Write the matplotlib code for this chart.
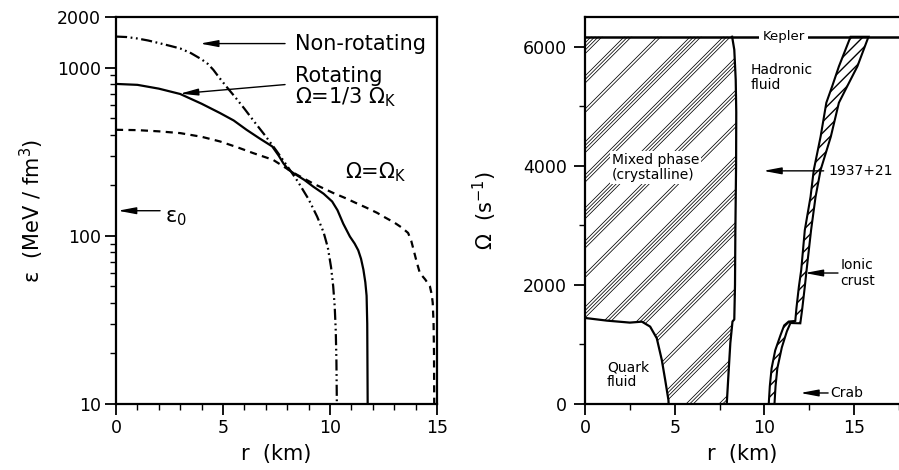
import matplotlib
matplotlib.use("Agg")
import matplotlib.pyplot as plt
import numpy as np
from matplotlib.patches import Polygon
from matplotlib.collections import LineCollection
from matplotlib.ticker import MultipleLocator, FixedLocator, NullFormatter

plt.rcParams['font.family'] = ['DejaVu Sans']
plt.rcParams['mathtext.default'] = 'regular'

# ---- left panel: energy density profiles eps(r) ----
r_nonrot = [0, 0.5, 1, 1.5, 2, 2.5, 3, 3.5, 4, 4.3, 4.55, 4.8, 5.2, 5.6, 6, 6.5, 7, 7.5,
            8, 8.5, 9, 9.4, 9.7, 9.9, 10.05, 10.15, 10.22, 10.27, 10.3, 10.32]
eps_nonrot = [1530, 1520, 1490, 1450, 1400, 1350, 1300, 1220, 1120, 1050, 970, 880, 760, 660,
              570, 470, 390, 320, 260, 210, 165, 130, 105, 85, 65, 50, 38, 27, 18, 10]

r_rot13 = [0, 1, 2, 3, 4, 4.86, 5.5, 6.1, 6.7, 7.3, 7.6, 7.82, 8.05, 8.29, 8.8, 9.22, 9.7,
           10.1, 10.35, 10.62, 10.93, 11.15, 11.32, 11.45, 11.56, 11.65, 11.71, 11.74, 11.76]
eps_rot13 = [800, 790, 750, 697, 610, 537, 485, 427, 380, 340, 300, 270, 248, 236, 215, 196, 178,
             160, 142, 118, 99, 90, 82, 73, 63, 53, 44, 30, 10]

r_kep = [0, 1, 2, 3, 4, 4.86, 5.7, 6.42, 7.34, 8.29, 9.2, 10.14, 10.7, 11.2, 11.7, 12.2, 12.6,
         13.0, 13.35, 13.65, 13.8, 13.88, 14.05, 14.2, 14.45, 14.67, 14.75, 14.8, 14.84, 14.86, 14.87]
eps_kep = [427, 425, 418, 408, 388, 364, 335, 310, 283, 237, 205, 180, 168, 157, 147, 137, 128,
           120, 112, 104, 93, 85, 70, 60, 55, 50, 45, 40, 30, 20, 10]

eps0 = 141  # nuclear matter density marker

# ---- right panel: phase boundaries Omega(r) ----
omega_kepler = 6168

hadron_r = [8.2, 8.32, 8.4, 8.43, 8.42, 8.38, 8.36, 8.32, 8.22, 8.1, 8.0, 7.9]
hadron_omega = [6168, 5950, 5445, 4900, 4000, 2900, 2000, 1420, 1385, 1025, 520, 0]

quark_r = [4.66, 4.65, 4.47, 4.28, 4.0, 3.63, 3.17, 2.5, 1.23, 0]
quark_omega = [0, 67, 403, 740, 1104, 1300, 1383, 1367, 1400, 1445]

crust_in_r = [10.24, 10.30, 10.40, 10.60, 10.90, 11.10, 11.35, 11.72, 11.78, 11.92, 12.05,
              12.25, 12.57, 12.75, 13.13, 13.45, 13.78, 14.15, 14.80]
crust_in_omega = [0, 300, 600, 900, 1160, 1320, 1385, 1395, 1600, 1970, 2250,
                  2920, 3480, 3930, 4490, 5060, 5340, 5670, 6168]
crust_out_r = [10.56, 10.62, 10.72, 10.97, 11.25, 11.45, 12.0, 12.1, 12.25, 12.35,
               12.6, 12.85, 13.13, 13.70, 14.15, 14.62, 15.18, 15.80]
crust_out_omega = [0, 300, 600, 950, 1220, 1360, 1355, 1580, 1970, 2250,
                   2920, 3480, 3930, 4490, 5060, 5340, 5670, 6168]

W_PX, H_PX = 899, 470
fig = plt.figure(figsize=(W_PX / 100, H_PX / 100), dpi=100)
pos1 = [116 / W_PX, 1 - 404 / H_PX, (437 - 116) / W_PX, 387 / H_PX]
pos2 = [585 / W_PX, 1 - 404 / H_PX, (899 - 585) / W_PX, 387 / H_PX]
ax1 = fig.add_axes(pos1)
ax2 = fig.add_axes(pos2)

arrow = dict(arrowstyle='-|>,head_length=0.9,head_width=0.17', color='k', lw=1.0,
             shrinkA=0, shrinkB=0, mutation_scale=12)

# ---------------- left ----------------
ax1.plot(r_nonrot, eps_nonrot, color='k', lw=1.6, dashes=(5, 1.6, 0.8, 1.6, 0.8, 1.6))
ax1.plot(r_rot13, eps_rot13, color='k', lw=1.6)
ax1.plot(r_kep, eps_kep, color='k', lw=1.6, dashes=(3.2, 2.4))
ax1.set_yscale('log')
ax1.set_xlim(0, 15)
ax1.set_ylim(10, 2000)
ax1.yaxis.set_major_locator(FixedLocator([10, 100, 1000, 2000]))
ax1.set_yticklabels(['10', '100', '1000', '2000'])
ax1.yaxis.set_minor_locator(FixedLocator([20, 30, 40, 50, 60, 70, 80, 90,
                                          200, 300, 400, 500, 600, 700, 800, 900]))
ax1.yaxis.set_minor_formatter(NullFormatter())
ax1.xaxis.set_major_locator(MultipleLocator(5))
ax1.xaxis.set_minor_locator(MultipleLocator(1))

ax1.annotate('', xy=(3.93, 1390), xytext=(7.9, 1390), arrowprops=arrow)
ax1.text(8.36, 1390, 'Non-rotating', fontsize=15, va='center', ha='left')
ax1.annotate('', xy=(2.99, 700), xytext=(7.9, 793), arrowprops=arrow)
ax1.text(8.36, 760, 'Rotating\n\u03a9=1/3 \u03a9$_K$', fontsize=15, va='center', ha='left',
         linespacing=0.95)
ax1.text(10.7, 240, '\u03a9=\u03a9$_K$', fontsize=15, va='center', ha='left')
ax1.annotate('', xy=(0.09, eps0), xytext=(2.06, eps0), arrowprops=arrow)
ax1.text(2.29, 128, '\u03b5$_0$', fontsize=15, va='center', ha='left')

ax1.set_xlabel('r  (km)', fontsize=15, labelpad=5)
ax1.set_ylabel('\u03b5  (MeV / fm$^3$)', fontsize=15, labelpad=8)

# ---------------- right ----------------
ax2.set_xlim(0, 17.5)
ax2.set_ylim(0, 6500)

mixed_vertices = ([(0, omega_kepler)] + list(zip(hadron_r, hadron_omega))
                  + list(zip(quark_r, quark_omega)))
mixed = Polygon(mixed_vertices, closed=True, facecolor='none', edgecolor='none',
                transform=ax2.transData)
ax2.add_patch(mixed)

# grouped diagonal hatching (45 deg on screen) clipped to the mixed phase
ax_w = pos2[2] * W_PX
ax_h = pos2[3] * H_PX
segs = []
group_sizes = [4, 3, 4, 3, 2]
for i, base in enumerate(np.arange(-ax_h - 40, ax_w + 40, 33.0)):
    for k in range(group_sizes[i % len(group_sizes)]):
        c = base + k * 3.6
        segs.append([(c / ax_w, 0), ((c + ax_h) / ax_w, 1)])
hatch = LineCollection(segs, colors='k', linewidths=0.55, transform=ax2.transAxes)
hatch.set_clip_path(mixed)
ax2.add_collection(hatch)

ax2.plot(hadron_r, hadron_omega, color='k', lw=1.6)
ax2.plot(quark_r, quark_omega, color='k', lw=1.6)

crust = Polygon(list(zip(crust_in_r, crust_in_omega)) + list(zip(crust_out_r, crust_out_omega))[::-1],
                closed=True, facecolor='white', edgecolor='k', lw=1.5, hatch='///')
ax2.add_patch(crust)

ax2.axhline(omega_kepler, color='k', lw=1.8)
ax2.text(11.06, omega_kepler, 'Kepler', fontsize=9.5, ha='center', va='center',
         bbox=dict(facecolor='white', edgecolor='none', pad=2.5))
ax2.text(9.22, 5480, 'Hadronic\nfluid', fontsize=10, ha='left', va='center', linespacing=1.1)
ax2.text(1.5, 3975, 'Mixed phase\n(crystalline)', fontsize=10, ha='left', va='center',
         linespacing=1.1, bbox=dict(facecolor='white', edgecolor='none', pad=1.5))
ax2.text(1.23, 490, 'Quark\nfluid', fontsize=10, ha='left', va='center', linespacing=1.1)

ax2.annotate('', xy=(9.94, 3916), xytext=(13.3, 3916), arrowprops=arrow)
ax2.text(13.55, 3916, '1937+21', fontsize=10, ha='left', va='center')
ax2.annotate('', xy=(12.25, 2200), xytext=(14.1, 2200), arrowprops=arrow)
ax2.text(14.25, 2200, 'Ionic\ncrust', fontsize=10, ha='left', va='center', linespacing=1.1)
ax2.annotate('', xy=(12.0, 185), xytext=(13.55, 185), arrowprops=arrow)
ax2.text(13.69, 185, 'Crab', fontsize=10, ha='left', va='center')

ax2.xaxis.set_major_locator(MultipleLocator(5))
ax2.xaxis.set_minor_locator(MultipleLocator(2.5))
ax2.yaxis.set_major_locator(MultipleLocator(2000))
ax2.yaxis.set_minor_locator(MultipleLocator(1000))
ax2.spines['right'].set_visible(False)
ax2.set_xlabel('r  (km)', fontsize=15, labelpad=5)
ax2.set_ylabel('\u03a9  (s$^{-1}$)', fontsize=15, labelpad=17)

for ax in (ax1, ax2):
    for s in ax.spines.values():
        s.set_linewidth(1.6)
    ax.tick_params(which='major', direction='out', length=8, width=1.3, labelsize=12.5, pad=3)
    ax.tick_params(which='minor', direction='out', length=4, width=1.0)
ax2.tick_params(axis='y', which='major', pad=5)

fig.savefig('out.png', dpi=100)
